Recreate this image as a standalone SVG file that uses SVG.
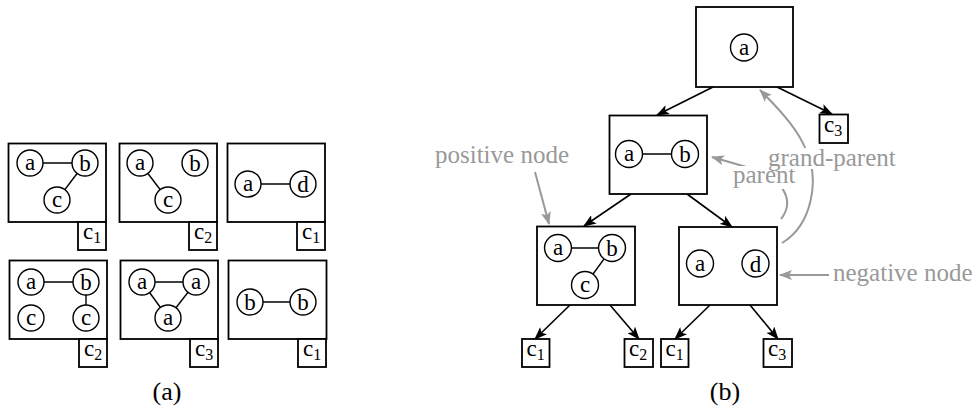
<svg xmlns="http://www.w3.org/2000/svg" width="978" height="414" viewBox="0 0 978 414">
<style>
.box{fill:#fff;stroke:#000;stroke-width:1.8}
.lbl{fill:#fff;stroke:#000;stroke-width:1.8}
.c{fill:#fff;stroke:#000;stroke-width:1.4}
.e{stroke:#000;stroke-width:1.4;fill:none}
text{font-family:'Liberation Serif','Times New Roman','DejaVu Serif',serif}
.t{font-size:23px;text-anchor:middle;fill:#000}
.lt{font-size:23px;fill:#000}
.sub{font-size:16px}
.arr{stroke:#000;stroke-width:1.6;fill:none;marker-end:url(#ah)}
.garr{stroke:#999;stroke-width:2;fill:none;marker-end:url(#gh)}
.gt{font-size:25px;fill:#999}
.cap{font-size:26px;text-anchor:middle;fill:#000}
</style>
<defs>
<marker id="ah" markerUnits="userSpaceOnUse" viewBox="0 0 13 10" refX="12" refY="5" markerWidth="13" markerHeight="10" orient="auto">
<path d="M0,0 L13,5 L0,10 L3,5 Z" fill="#000"/>
</marker>
<marker id="gh" markerUnits="userSpaceOnUse" viewBox="0 0 13 10" refX="12" refY="5" markerWidth="13" markerHeight="10" orient="auto">
<path d="M0,0 L13,5 L0,10 L3,5 Z" fill="#999"/>
</marker>
</defs>

<!-- (a) panel -->
<g id="a1">
<rect class="box" x="8.5" y="143.5" width="97.5" height="78.5"/>
<line class="e" x1="30" y1="163" x2="85" y2="163"/>
<line class="e" x1="85" y1="163" x2="57" y2="200"/>
<circle class="c" cx="30" cy="163" r="13"/><text class="t" x="30" y="170" font-family="Liberation Serif, serif">a</text>
<circle class="c" cx="85" cy="163" r="13"/><text class="t" x="85" y="171" font-family="Liberation Serif, serif">b</text>
<circle class="c" cx="57" cy="200" r="13"/><text class="t" x="57" y="207" font-family="Liberation Serif, serif">c</text>
<rect class="lbl" x="78" y="222" width="28" height="28"/>
<text class="lt" x="83" y="239">c<tspan class="sub" dy="4">1</tspan></text>
</g>
<g id="a2">
<rect class="box" x="119.5" y="143.5" width="97.5" height="78.5"/>
<line class="e" x1="140" y1="163" x2="168" y2="200"/>
<circle class="c" cx="140" cy="163" r="13"/><text class="t" x="140" y="170">a</text>
<circle class="c" cx="195" cy="163" r="13"/><text class="t" x="195" y="171">b</text>
<circle class="c" cx="168" cy="200" r="13"/><text class="t" x="168" y="207">c</text>
<rect class="lbl" x="189" y="222" width="28" height="28"/>
<text class="lt" x="194" y="239">c<tspan class="sub" dy="4">2</tspan></text>
</g>
<g id="a3">
<rect class="box" x="227.5" y="143.5" width="97.5" height="78.5"/>
<line class="e" x1="248" y1="184" x2="303" y2="184"/>
<circle class="c" cx="248" cy="184" r="13"/><text class="t" x="248" y="191">a</text>
<circle class="c" cx="303" cy="184" r="13"/><text class="t" x="303" y="192">d</text>
<rect class="lbl" x="297" y="222" width="28" height="28"/>
<text class="lt" x="302" y="239">c<tspan class="sub" dy="4">1</tspan></text>
</g>
<g id="a4">
<rect class="box" x="9.5" y="260.5" width="97.5" height="78.5"/>
<line class="e" x1="31" y1="282" x2="86" y2="282"/>
<line class="e" x1="86" y1="282" x2="86" y2="318"/>
<circle class="c" cx="31" cy="282" r="13"/><text class="t" x="31" y="289">a</text>
<circle class="c" cx="86" cy="282" r="13"/><text class="t" x="86" y="290">b</text>
<circle class="c" cx="31" cy="318" r="13"/><text class="t" x="31" y="325">c</text>
<circle class="c" cx="86" cy="318" r="13"/><text class="t" x="86" y="325">c</text>
<rect class="lbl" x="79" y="339" width="28" height="28"/>
<text class="lt" x="84" y="356">c<tspan class="sub" dy="4">2</tspan></text>
</g>
<g id="a5">
<rect class="box" x="120.5" y="260.5" width="97.5" height="78.5"/>
<line class="e" x1="142" y1="282" x2="196" y2="282"/>
<line class="e" x1="142" y1="282" x2="168" y2="318"/>
<line class="e" x1="196" y1="282" x2="168" y2="318"/>
<circle class="c" cx="142" cy="282" r="13"/><text class="t" x="142" y="289">a</text>
<circle class="c" cx="196" cy="282" r="13"/><text class="t" x="196" y="289">a</text>
<circle class="c" cx="168" cy="318" r="13"/><text class="t" x="168" y="325">a</text>
<rect class="lbl" x="190" y="339" width="28" height="28"/>
<text class="lt" x="195" y="356">c<tspan class="sub" dy="4">3</tspan></text>
</g>
<g id="a6">
<rect class="box" x="228.5" y="260.5" width="98" height="78.5"/>
<line class="e" x1="250" y1="302" x2="303" y2="302"/>
<circle class="c" cx="250" cy="302" r="13"/><text class="t" x="250" y="310">b</text>
<circle class="c" cx="303" cy="302" r="13"/><text class="t" x="303" y="310">b</text>
<rect class="lbl" x="298" y="339" width="28" height="28"/>
<text class="lt" x="303" y="356">c<tspan class="sub" dy="4">1</tspan></text>
</g>
<text class="cap" x="167" y="400">(a)</text>

<!-- (b) panel connectors -->
<g id="connectors">
<line class="arr" x1="713" y1="87" x2="657" y2="115"/>
<line class="arr" x1="777" y1="87" x2="832" y2="114"/>
<line class="arr" x1="631" y1="194" x2="584" y2="226"/>
<line class="arr" x1="687" y1="194" x2="732" y2="227"/>
<line class="arr" x1="570" y1="305" x2="535" y2="339"/>
<line class="arr" x1="610" y1="305" x2="639" y2="339"/>
<line class="arr" x1="710" y1="305" x2="675" y2="339"/>
<line class="arr" x1="750" y1="305" x2="778" y2="339"/>
<line class="garr" x1="535" y1="172" x2="549" y2="224"/>
<line class="garr" x1="829" y1="275" x2="780" y2="275"/>
<path class="garr" d="M781,219 C792,205 790,186 760,171 L712,157"/>
<path class="garr" d="M782,243 C812,225 820,180 806,150 C799,132 785,115 760,90"/>
</g>

<g id="root">
<rect class="box" x="696" y="7" width="97" height="80"/>
<circle class="c" cx="744" cy="47.5" r="13.5"/><text class="t" x="744" y="55">a</text>
</g>
<g id="leaf_top_c3">
<rect class="lbl" x="819.5" y="114.5" width="28.5" height="28.5"/>
<text class="lt" x="824" y="132">c<tspan class="sub" dy="4">3</tspan></text>
</g>
<g id="ab">
<rect class="box" x="609.5" y="115.5" width="97.5" height="78.5"/>
<line class="e" x1="629" y1="154" x2="685" y2="154"/>
<circle class="c" cx="629" cy="154" r="13.5"/><text class="t" x="629" y="161">a</text>
<circle class="c" cx="685" cy="154" r="13.5"/><text class="t" x="685" y="162">b</text>
</g>
<g id="abc">
<rect class="box" x="537" y="226.5" width="98" height="78.5"/>
<line class="e" x1="558" y1="248" x2="612" y2="248"/>
<line class="e" x1="612" y1="248" x2="585" y2="285"/>
<circle class="c" cx="558" cy="248" r="13.5"/><text class="t" x="558" y="255">a</text>
<circle class="c" cx="612" cy="248" r="13.5"/><text class="t" x="612" y="256">b</text>
<circle class="c" cx="585" cy="285" r="13.5"/><text class="t" x="585" y="292">c</text>
</g>
<g id="ad">
<rect class="box" x="679" y="227" width="98" height="78"/>
<circle class="c" cx="700" cy="263.5" r="13.5"/><text class="t" x="700" y="270.5">a</text>
<circle class="c" cx="755.5" cy="263.5" r="13.5"/><text class="t" x="755.5" y="271.5">d</text>
</g>
<g id="leaf1">
<rect class="lbl" x="522" y="339" width="27.5" height="28"/>
<text class="lt" x="526.5" y="356">c<tspan class="sub" dy="4">1</tspan></text>
</g>
<g id="leaf2">
<rect class="lbl" x="624.5" y="339" width="28.5" height="28"/>
<text class="lt" x="629" y="356">c<tspan class="sub" dy="4">2</tspan></text>
</g>
<g id="leaf3">
<rect class="lbl" x="661" y="339" width="27.5" height="28"/>
<text class="lt" x="665.5" y="356">c<tspan class="sub" dy="4">1</tspan></text>
</g>
<g id="leaf4">
<rect class="lbl" x="763.5" y="339" width="28.5" height="28"/>
<text class="lt" x="768" y="356">c<tspan class="sub" dy="4">3</tspan></text>
</g>

<g id="annotations">
<text class="gt" x="435" y="163">positive node</text>
<rect x="731" y="166" width="68" height="23" fill="#fff"/>
<text class="gt" x="733" y="183">parent</text>
<rect x="766" y="148" width="133" height="21" fill="#fff"/>
<text class="gt" x="768" y="166">grand-parent</text>
<text class="gt" x="833" y="281">negative node</text>
</g>
<text class="cap" x="725" y="400">(b)</text>
</svg>
